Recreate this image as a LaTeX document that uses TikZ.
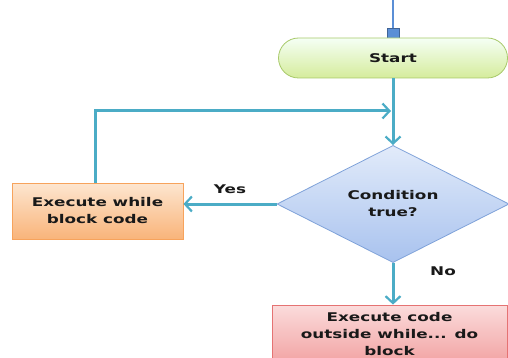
\documentclass[tikz,border=0pt]{standalone}
\usepackage{fontspec}
\newfontfamily\flowfont{DejaVu Sans}[FakeStretch=1.4]
\usetikzlibrary{arrows.meta,shapes.geometric}
\definecolor{flowline}{HTML}{4BACC6}
\definecolor{pinblue}{HTML}{5B8FD6}
\definecolor{startedge}{HTML}{A8C96A}
\definecolor{condedge}{HTML}{7FA2D9}
\definecolor{bodyedge}{HTML}{F7A35C}
\definecolor{exitedge}{HTML}{E57373}

\begin{document}
\begin{tikzpicture}[x=1pt,y=-1pt,
	txt/.style={font=\flowfont\bfseries\fontsize{12}{17}\selectfont, text=black!90, align=center},
	flow/.style={line width=3pt, color=flowline, -{Straight Barb[length=7pt,width=15pt,line width=2.2pt]}},
	startbox/.style={txt, draw=startedge, line width=0.8pt, rounded corners=20pt, top color=green!4!white, bottom color={rgb,255:red,213;green,236;blue,156}, minimum width=229pt, minimum height=40pt},
	condbox/.style={txt, diamond, draw=condedge, line width=0.8pt, top color={rgb,255:red,226;green,235;blue,250}, bottom color={rgb,255:red,168;green,194;blue,238}, minimum width=232pt, minimum height=108pt, inner sep=0pt},
	bodybox/.style={txt, draw=bodyedge, line width=0.8pt, top color={rgb,255:red,253;green,230;blue,208}, bottom color={rgb,255:red,249;green,180;blue,122}, minimum width=171pt, minimum height=56pt},
	exitbox/.style={txt, draw=exitedge, line width=0.8pt, top color={rgb,255:red,251;green,220;blue,220}, bottom color={rgb,255:red,242;green,163;blue,163}, minimum width=235pt, minimum height=58pt}]
	%%%%% START %%%%%
	\useasboundingbox (0,0) rectangle (508,358);
	\clip (0,0) rectangle (508,358);
	
	\coordinate (top) at (393,0);
	\node[draw=pinblue!70!black, fill=pinblue, line width=0.5pt, minimum width=12pt, minimum height=10pt, inner sep=0pt] (pin) at (393,33) {};
	\draw[line width=1.8pt, color=pinblue] (top) -- (pin);
	
	\node[startbox] (start) at (393,58) {Start};
	\node[condbox] (cond) at (393,204) {Condition\\true?};
	\node[bodybox] (body) at (97.5,211) {Execute while\\block code};
	\node[exitbox] (exit) at (389.5,334) {Execute code\\outside while... do\\block};
	
	\coordinate (join) at (393,111);
	
	\draw[flow] (start) -- (cond);
	\draw[flow, shorten >=2pt] (body.north -| 95,0) |- (join);
	\draw[flow] (cond.west) -- (cond.west -| body.east);
	\draw[flow] (cond.south) -- (exit.north -| cond.south);
	
	\node[txt] (yes) at (230,189) {Yes};
	\node[txt] (no) at (443,271) {No};
	%%%%% END %%%%%
\end{tikzpicture}
\end{document}
